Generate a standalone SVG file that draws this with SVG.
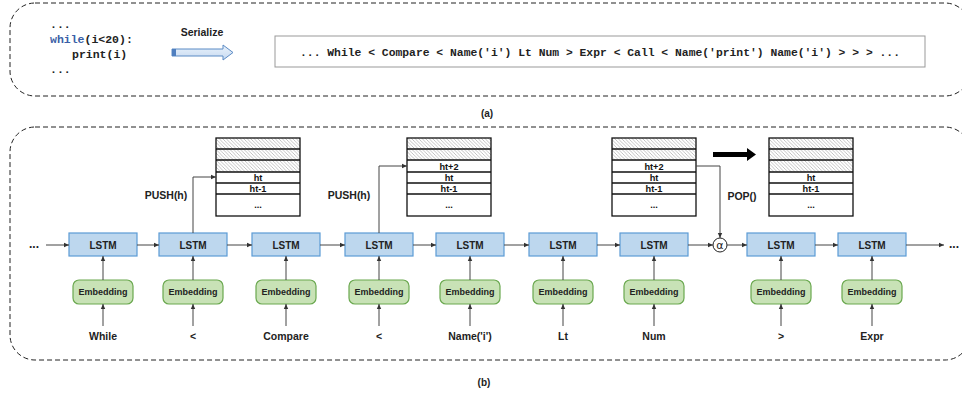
<svg xmlns="http://www.w3.org/2000/svg" width="962" height="400" viewBox="0 0 962 400">
<defs>
<pattern id="hatch" patternUnits="userSpaceOnUse" width="3.5" height="3.5">
<rect width="3.5" height="3.5" fill="#fff"/>
<path d="M0,0 L3.5,3.5 M-1,2.5 L1,4.5 M2.5,-1 L4.5,1" stroke="#9a9a9a" stroke-width="0.6"/>
</pattern>
<linearGradient id="ag" x1="0" y1="0" x2="0" y2="1">
<stop offset="0" stop-color="#eaf2fb"/>
<stop offset="1" stop-color="#c6daf1"/>
</linearGradient>
<marker id="ah" markerWidth="6" markerHeight="6" refX="5" refY="3" orient="auto" markerUnits="userSpaceOnUse">
<path d="M0,0.8 L5,3 L0,5.2 Z" fill="#333"/>
</marker>
</defs>
<style>
.panel{fill:none;stroke:#222;stroke-width:1;stroke-dasharray:5,3}
.lstm rect{fill:#bdd7ee;stroke:#5b9bd5;stroke-width:1.2}
.emb rect{fill:#c8e2b6;stroke:#6aa84f;stroke-width:1.2}
.t{font-family:"Liberation Sans",Arial,sans-serif;font-weight:bold;fill:#222;text-anchor:middle}
.lt{font-size:10px}
.et{font-size:9px}
.lab{font-size:10.5px}
.mono{font-family:"Liberation Mono","DejaVu Sans Mono",monospace;font-weight:bold;font-size:11.5px;fill:#222}
.stk{fill:none;stroke:#111;stroke-width:1.3}
.st{font-family:"Liberation Sans",Arial,sans-serif;font-weight:bold;font-size:9.2px;fill:#111;text-anchor:middle}
.c{fill:none;stroke:#444;stroke-width:1;marker-end:url(#ah)}
</style>

<!-- Panel (a) -->
<g id="panel-a">
<rect class="panel" x="10" y="3" width="960" height="93" rx="25"/>
<text class="mono" x="50" y="28">...</text>
<text class="mono" x="50" y="43"><tspan fill="#3b5fa6">while</tspan>(i&lt;20):</text>
<text class="mono" x="72" y="58">print(i)</text>
<text class="mono" x="50" y="73">...</text>
<text class="t" x="202" y="36" style="font-size:10.5px">Serialize</text>
<g id="serialize-arrow">
<path d="M172,49 L223,49 L223,45 L233,52.5 L223,60 L223,56 L172,56 Z" fill="url(#ag)" stroke="#5b8bc5" stroke-width="1"/>
<rect x="172" y="49" width="4" height="7" fill="#4f7fbf"/>
</g>
<g id="serialized">
<rect x="275" y="36" width="650" height="31" fill="#fff" stroke="#999" stroke-width="1"/>
<text class="mono" x="300" y="56" textLength="600" lengthAdjust="spacingAndGlyphs">... While &lt; Compare &lt; Name('i') Lt Num &gt; Expr &lt; Call &lt; Name('print') Name('i') &gt; &gt; &gt; ...</text>
</g>
<text class="t" x="487" y="117" style="font-size:10px">(a)</text>
</g>

<!-- Panel (b) -->
<rect class="panel" x="10" y="127" width="960" height="233" rx="25"/>
<text class="t" x="484" y="386" style="font-size:10px">(b)</text>

<!-- Stacks -->
<g id="stack1">
<rect x="216" y="138" width="84" height="34" fill="url(#hatch)"/>
<rect class="stk" x="216" y="138" width="84" height="78"/>
<path class="stk" d="M216,149H300M216,160H300M216,172H300M216,183H300M216,194H300"/>
<text class="st" x="258" y="181">ht</text>
<text class="st" x="258" y="192">ht-1</text>
<text class="st" x="258" y="208">...</text>
</g>
<g id="stack2">
<rect x="407" y="138" width="84" height="22" fill="url(#hatch)"/>
<rect class="stk" x="407" y="138" width="84" height="78"/>
<path class="stk" d="M407,149H491M407,160H491M407,172H491M407,183H491M407,194H491"/>
<text class="st" x="449" y="169.5">ht+2</text>
<text class="st" x="449" y="181">ht</text>
<text class="st" x="449" y="192">ht-1</text>
<text class="st" x="449" y="208">...</text>
</g>
<g id="stack3">
<rect x="612" y="138" width="84" height="22" fill="url(#hatch)"/>
<rect class="stk" x="612" y="138" width="84" height="78"/>
<path class="stk" d="M612,149H696M612,160H696M612,172H696M612,183H696M612,194H696"/>
<text class="st" x="654" y="169.5">ht+2</text>
<text class="st" x="654" y="181">ht</text>
<text class="st" x="654" y="192">ht-1</text>
<text class="st" x="654" y="208">...</text>
</g>
<g id="stack4">
<rect x="769" y="138" width="84" height="34" fill="url(#hatch)"/>
<rect class="stk" x="769" y="138" width="84" height="78"/>
<path class="stk" d="M769,149H853M769,160H853M769,172H853M769,183H853M769,194H853"/>
<text class="st" x="811" y="181">ht</text>
<text class="st" x="811" y="192">ht-1</text>
<text class="st" x="811" y="208">...</text>
</g>
<g id="pop-transition">
<path d="M713,152 L747,152 L747,148 L756,154.5 L747,161 L747,157 L713,157 Z" fill="#000"/>
</g>

<!-- LSTM nodes -->
<g id="lstm1" class="lstm"><rect x="69" y="233" width="68" height="23"/><text class="t lt" x="103" y="249">LSTM</text></g>
<g id="lstm2" class="lstm"><rect x="159" y="233" width="68" height="23"/><text class="t lt" x="193" y="249">LSTM</text></g>
<g id="lstm3" class="lstm"><rect x="252" y="233" width="68" height="23"/><text class="t lt" x="286" y="249">LSTM</text></g>
<g id="lstm4" class="lstm"><rect x="345" y="233" width="68" height="23"/><text class="t lt" x="379" y="249">LSTM</text></g>
<g id="lstm5" class="lstm"><rect x="436" y="233" width="68" height="23"/><text class="t lt" x="470" y="249">LSTM</text></g>
<g id="lstm6" class="lstm"><rect x="529" y="233" width="68" height="23"/><text class="t lt" x="563" y="249">LSTM</text></g>
<g id="lstm7" class="lstm"><rect x="620" y="233" width="68" height="23"/><text class="t lt" x="654" y="249">LSTM</text></g>
<g id="lstm8" class="lstm"><rect x="747" y="233" width="68" height="23"/><text class="t lt" x="781" y="249">LSTM</text></g>
<g id="lstm9" class="lstm"><rect x="838" y="233" width="68" height="23"/><text class="t lt" x="872" y="249">LSTM</text></g>

<g id="alpha">
<circle cx="720" cy="245" r="7" fill="#fff" stroke="#222" stroke-width="1"/>
<text x="720" y="249" style="font-family:'DejaVu Sans',sans-serif;font-size:11px;text-anchor:middle;fill:#222">α</text>
</g>

<!-- Embedding nodes -->
<g id="emb1" class="emb"><rect x="73" y="280" width="60" height="24" rx="6"/><text class="t et" x="103" y="295">Embedding</text></g>
<g id="emb2" class="emb"><rect x="163" y="280" width="60" height="24" rx="6"/><text class="t et" x="193" y="295">Embedding</text></g>
<g id="emb3" class="emb"><rect x="256" y="280" width="60" height="24" rx="6"/><text class="t et" x="286" y="295">Embedding</text></g>
<g id="emb4" class="emb"><rect x="349" y="280" width="60" height="24" rx="6"/><text class="t et" x="379" y="295">Embedding</text></g>
<g id="emb5" class="emb"><rect x="440" y="280" width="60" height="24" rx="6"/><text class="t et" x="470" y="295">Embedding</text></g>
<g id="emb6" class="emb"><rect x="533" y="280" width="60" height="24" rx="6"/><text class="t et" x="563" y="295">Embedding</text></g>
<g id="emb7" class="emb"><rect x="624" y="280" width="60" height="24" rx="6"/><text class="t et" x="654" y="295">Embedding</text></g>
<g id="emb8" class="emb"><rect x="751" y="280" width="60" height="24" rx="6"/><text class="t et" x="781" y="295">Embedding</text></g>
<g id="emb9" class="emb"><rect x="842" y="280" width="60" height="24" rx="6"/><text class="t et" x="872" y="295">Embedding</text></g>

<!-- Input labels -->
<g id="labels">
<text class="t lab" x="103" y="340">While</text>
<text class="t lab" x="193" y="340">&lt;</text>
<text class="t lab" x="286" y="340">Compare</text>
<text class="t lab" x="379" y="340">&lt;</text>
<text class="t lab" x="470" y="340">Name('i')</text>
<text class="t lab" x="563" y="340">Lt</text>
<text class="t lab" x="654" y="340">Num</text>
<text class="t lab" x="781" y="340">&gt;</text>
<text class="t lab" x="872" y="340">Expr</text>
<text class="t" x="34" y="248" style="font-size:12px">...</text>
<text class="t" x="954" y="248" style="font-size:12px">...</text>
<text class="t lab" x="166" y="199">PUSH(h)</text>
<text class="t lab" x="349" y="199">PUSH(h)</text>
<text class="t lab" x="742" y="200">POP()</text>
</g>

<!-- Connectors -->
<g id="connectors">
<path class="c" d="M46,245H69"/>
<path class="c" d="M137,245H159"/>
<path class="c" d="M227,245H252"/>
<path class="c" d="M320,245H345"/>
<path class="c" d="M413,245H436"/>
<path class="c" d="M504,245H529"/>
<path class="c" d="M597,245H620"/>
<path class="c" d="M688,245H713"/>
<path class="c" d="M727,245H747"/>
<path class="c" d="M815,245H838"/>
<path class="c" d="M906,245H944"/>
<path class="c" d="M193,233V177H216"/>
<path class="c" d="M379,233V166H407"/>
<path class="c" d="M696,166H720V238"/>
<path class="c" d="M103,280V256"/>
<path class="c" d="M193,280V256"/>
<path class="c" d="M286,280V256"/>
<path class="c" d="M379,280V256"/>
<path class="c" d="M470,280V256"/>
<path class="c" d="M563,280V256"/>
<path class="c" d="M654,280V256"/>
<path class="c" d="M781,280V256"/>
<path class="c" d="M872,280V256"/>
<path class="c" d="M103,326V304"/>
<path class="c" d="M193,326V304"/>
<path class="c" d="M286,326V304"/>
<path class="c" d="M379,326V304"/>
<path class="c" d="M470,326V304"/>
<path class="c" d="M563,326V304"/>
<path class="c" d="M654,326V304"/>
<path class="c" d="M781,326V304"/>
<path class="c" d="M872,326V304"/>
</g>
</svg>
